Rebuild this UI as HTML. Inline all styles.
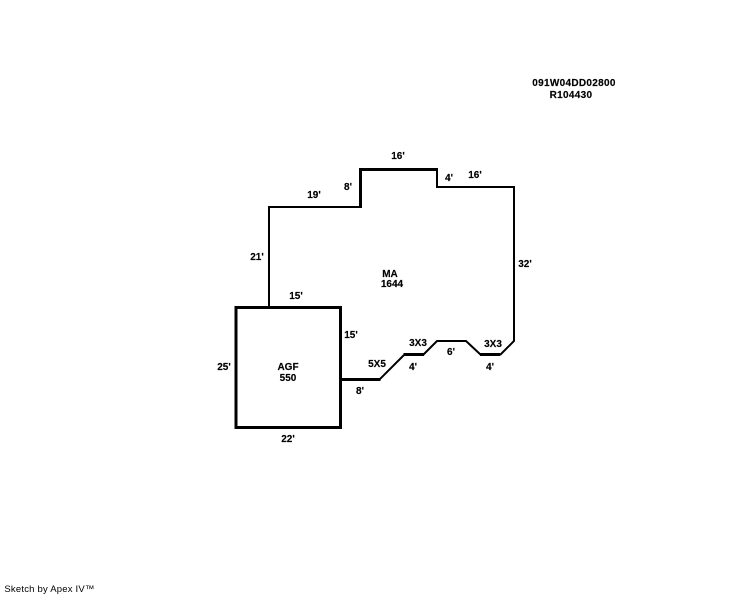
<!DOCTYPE html>
<html>
<head>
<meta charset="utf-8">
<style>
html,body{margin:0;padding:0;background:#fff;width:744px;height:595px;overflow:hidden}
svg{display:block}
text{font-family:"Liberation Sans",sans-serif;font-weight:bold;font-size:10px;fill:#000;text-anchor:middle;stroke:#000;stroke-width:.15px}
</style>
</head>
<body>
<svg width="744" height="595" viewBox="0 0 744 595" xmlns="http://www.w3.org/2000/svg">
<rect width="744" height="595" fill="#fff"/>
<g fill="none" stroke="#000" stroke-linejoin="miter">
<path stroke-width="2" d="M269 307V207H360"/>
<path stroke-width="3" d="M360.500 208V169.500H437"/>
<path stroke-width="2" d="M437 168V187H514V341L500 355"/>
<path stroke-width="3" d="M500 354.500H480"/>
<path stroke-width="2" d="M481 355L466 341H437L423 355"/>
<path stroke-width="3" d="M424 354.500H403.500"/>
<path stroke-width="2" d="M404 355L380 379"/>
<path stroke-width="3" d="M380.500 379.500H341"/>
<rect x="236" y="307.500" width="104.500" height="120" stroke-width="3"/>
</g>
<text x="574" y="86" letter-spacing=".3">091W04DD02800</text>
<text x="571" y="98" letter-spacing=".3">R104430</text>
<text x="398" y="159">16'</text>
<text x="348" y="190">8'</text>
<text x="314" y="198">19'</text>
<text x="449" y="181">4'</text>
<text x="475" y="178">16'</text>
<text x="257" y="260">21'</text>
<text x="525" y="267">32'</text>
<text x="390" y="277">MA</text>
<text x="392" y="287">1644</text>
<text x="296" y="299">15'</text>
<text x="351" y="338">15'</text>
<text x="418" y="346">3X3</text>
<text x="451" y="355">6'</text>
<text x="493" y="347">3X3</text>
<text x="377" y="367">5X5</text>
<text x="413" y="370">4'</text>
<text x="490" y="370">4'</text>
<text x="224" y="370">25'</text>
<text x="288" y="370">AGF</text>
<text x="288" y="381">550</text>
<text x="360" y="394">8'</text>
<text x="288" y="442">22'</text>
<text x="49.500" y="592" style="font-weight:normal;font-size:9.500px;stroke:none" letter-spacing=".2">Sketch by Apex IV™</text>
</svg>
</body>
</html>
